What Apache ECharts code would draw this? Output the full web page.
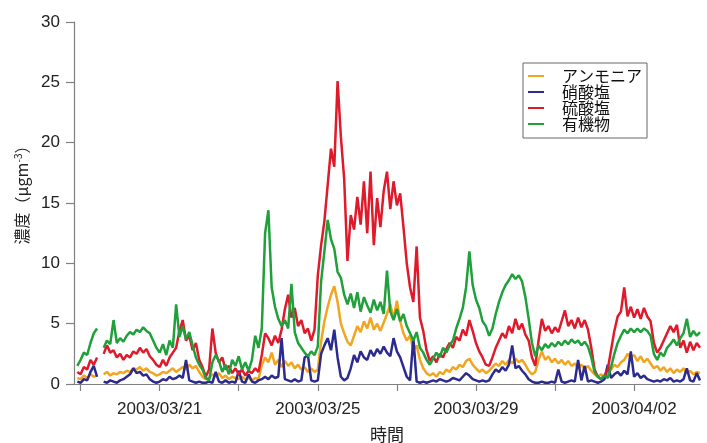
<!DOCTYPE html>
<html>
<head>
<meta charset="utf-8">
<script src="https://cdn.jsdelivr.net/npm/echarts@6/dist/echarts.min.js"></script>
<style>
html,body{margin:0;padding:0;background:#fff}
#chart{width:707px;height:443px}
</style>
</head>
<body>
<div id="chart"></div>
<script>
// Samples every 2 hours; x is hours since 2003/03/19 00:00
const START_HOUR = -2;
const STEP_HOUR = 2;

const seriesNames = ['アンモニア', '硝酸塩', '硫酸塩', '有機物'];
const seriesColors = ['#f2a51f', '#2c2a8e', '#df1a2b', '#20a03a'];

// アンモニア (μg m-3)
const ammonia = [
  0.5,0.4,0.7,0.5,0.8,0.6,0.7,null,0.8,1.0,
  0.7,0.9,0.8,1.0,0.9,1.1,1.0,1.3,1.2,1.4,
  1.1,1.3,1.0,0.9,0.7,0.8,1.0,0.9,1.1,1.3,
  1.0,1.2,1.4,1.2,1.6,1.3,1.5,1.0,0.6,0.4,
  0.5,0.8,0.6,0.9,0.5,0.7,0.4,0.6,0.5,0.4,
  0.6,0.4,0.5,0.3,0.5,0.4,1.6,2.2,1.8,2.6,
  1.6,2.0,1.4,1.9,1.5,1.8,1.3,1.6,1.2,1.4,
  1.0,1.3,1.0,1.2,3.5,5.2,6.4,7.4,8.1,6.8,
  5.0,4.2,3.5,3.2,4.0,4.8,4.3,5.2,4.6,5.5,
  4.5,5.0,4.4,5.1,5.8,6.6,5.4,6.9,5.2,4.2,
  3.6,4.0,2.8,3.2,2.0,1.3,0.9,0.7,0.9,0.6,
  1.0,0.8,1.2,1.0,1.4,1.2,1.6,1.4,1.9,2.1,
  1.6,1.3,1.0,1.2,0.9,1.1,1.4,1.7,1.5,1.9,
  1.6,2.0,1.7,2.1,1.8,2.0,1.6,1.1,0.8,1.0,
  2.0,2.7,2.0,2.3,1.8,2.1,1.7,2.0,1.6,1.9,
  1.5,1.7,1.3,1.6,1.2,1.5,1.1,0.8,0.6,0.8,
  0.5,0.9,1.2,1.6,1.4,1.8,2.0,2.5,2.2,2.4,
  1.9,2.3,1.8,2.1,1.7,1.3,1.5,1.1,1.4,1.0,
  1.3,0.9,1.2,1.0,1.3,0.9,1.1,0.8,1.0,0.9
];

// 硝酸塩
const nitrate = [
  0.2,0.1,0.4,0.3,1.0,1.5,0.6,null,0.2,0.1,
  0.3,0.2,0.1,0.3,0.4,0.6,0.8,1.3,0.9,1.0,
  0.7,0.8,0.4,0.2,0.1,0.2,0.4,0.3,0.6,0.4,
  0.5,0.7,0.5,2.0,0.3,0.2,0.1,0.2,0.1,0.1,
  0.2,0.1,1.0,0.2,0.1,0.3,0.1,0.2,0.1,1.1,
  0.2,0.1,0.8,0.2,0.1,0.3,0.4,0.6,0.4,0.7,
  0.5,0.6,3.8,0.4,0.3,0.2,0.4,0.2,0.3,2.2,
  2.4,0.3,0.2,0.3,2.5,3.2,3.8,2.8,4.5,2.2,
  0.6,0.3,0.5,1.3,2.4,1.8,2.7,2.2,2.0,2.8,
  2.3,2.9,2.5,3.1,2.6,2.3,3.8,2.7,2.2,1.4,
  0.6,0.3,3.8,0.2,0.1,0.2,0.1,0.2,0.3,0.2,
  0.4,0.3,0.2,0.3,0.5,0.4,0.3,0.6,0.9,0.7,
  0.4,0.3,0.2,0.3,0.2,0.3,0.8,1.2,1.0,1.4,
  1.1,1.6,3.2,1.3,1.5,1.1,0.8,0.4,0.2,0.1,
  0.1,0.2,0.1,0.1,0.2,0.1,1.2,0.2,0.1,0.2,
  0.3,0.2,2.0,0.3,1.5,0.2,0.3,0.2,0.1,0.2,
  0.4,1.6,0.5,0.8,1.0,0.7,1.1,0.8,2.7,0.6,
  0.9,0.5,0.7,0.4,0.3,0.2,0.3,0.2,0.4,0.3,
  0.5,0.2,0.3,0.2,0.4,1.3,0.3,0.2,0.9,0.3
];

// 硫酸塩
const sulfate = [
  1.0,0.8,1.4,1.2,2.0,1.6,2.2,null,2.5,3.2,
  2.6,2.8,2.2,2.5,2.0,2.4,2.2,2.7,2.5,3.0,
  2.6,2.9,2.3,2.0,1.6,1.4,2.0,1.5,2.2,2.6,
  3.0,4.4,5.3,3.6,4.0,2.8,3.4,2.0,1.4,0.6,
  1.2,4.6,2.6,1.8,2.2,1.2,1.5,0.9,1.3,0.8,
  1.2,0.7,1.1,0.9,1.3,1.0,2.4,4.2,3.8,3.2,
  4.0,3.4,4.5,6.2,7.4,5.5,6.3,4.8,5.3,4.2,
  4.6,3.6,4.5,9.0,11.5,13.5,16.5,19.5,18.0,25.1,
  20.5,17.0,10.2,14.0,12.8,15.5,13.2,16.8,12.5,17.6,
  11.5,15.4,13.0,16.0,17.6,14.5,16.8,14.8,15.8,13.0,
  10.0,8.0,6.8,11.4,5.5,4.4,2.8,1.9,2.3,1.8,
  2.5,2.2,2.9,3.4,3.0,3.9,3.6,4.5,4.0,5.3,
  4.4,3.4,2.7,2.2,1.6,1.5,2.2,3.0,3.6,4.2,
  3.8,4.8,4.2,5.4,4.5,5.0,4.1,3.6,2.2,1.5,
  3.6,5.4,4.4,4.8,4.2,4.7,4.3,5.2,6.1,4.8,
  5.3,4.6,5.5,4.7,5.3,4.5,3.0,1.2,0.6,0.4,
  0.7,1.2,2.8,4.4,5.6,6.0,8.0,5.6,6.4,5.5,
  6.2,5.4,6.3,5.6,5.2,3.4,2.6,3.0,3.6,4.2,
  4.8,4.3,4.9,3.0,3.6,2.6,3.5,2.8,3.4,3.0
];

// 有機物
const organic = [
  1.5,2.0,2.6,2.4,3.4,4.2,4.6,null,3.0,3.6,
  3.3,5.3,3.4,3.8,3.5,4.0,4.3,4.1,4.5,4.3,
  4.7,4.4,4.2,3.6,3.0,2.6,3.3,2.4,3.6,3.0,
  6.6,3.9,4.8,3.7,4.3,3.2,2.2,1.6,1.2,0.5,
  0.3,1.8,2.4,1.9,1.0,1.6,0.8,2.0,1.5,2.3,
  1.2,1.8,1.1,2.0,4.0,3.0,4.6,12.5,14.4,8.0,
  6.4,5.4,4.8,5.3,4.6,8.3,4.3,3.4,3.0,2.6,
  2.3,2.7,2.4,3.1,8.5,11.0,13.6,12.0,11.2,9.3,
  8.8,7.4,6.6,7.5,6.3,7.6,6.0,7.2,6.5,5.9,
  7.0,6.1,6.8,5.8,9.4,6.0,5.3,6.2,5.2,5.8,
  4.8,4.2,3.6,4.3,3.0,2.6,2.0,1.6,2.1,2.6,
  2.2,3.0,2.6,3.2,3.6,4.6,5.4,6.3,8.0,11.0,
  8.2,7.0,6.3,5.2,4.8,4.0,4.6,5.8,6.8,7.6,
  8.2,8.6,9.1,8.7,9.0,8.5,7.2,5.4,3.4,2.3,
  3.2,2.8,3.3,3.0,3.4,3.1,3.5,3.2,3.6,3.3,
  3.7,3.4,3.6,3.2,3.5,3.1,2.2,1.0,0.6,0.4,
  0.7,0.5,1.4,2.5,3.4,4.0,4.5,4.2,4.6,4.3,
  4.6,4.3,4.6,4.4,4.0,2.5,2.0,2.6,2.3,3.0,
  3.3,3.7,3.2,3.8,4.2,5.4,3.9,4.4,4.0,4.3
];

// Axis ticks every 2 days, labels every 4 days (hours since 2003/03/19)
const tickHours = [0, 48, 96, 144, 192, 240, 288, 336];
const labelHours = [48, 144, 240, 336];
const dateLabels = ['2003/03/21', '2003/03/25', '2003/03/29', '2003/04/02'];

const allValues = [ammonia, nitrate, sulfate, organic];
const toPairs = arr => arr.map((v, i) => [START_HOUR + i * STEP_HOUR, v]);

const axisColor = '#808080';
const labelFont = 'Liberation Sans, Arial, sans-serif';
const cjkFont = 'Noto Sans CJK JP, sans-serif';

const chart = echarts.init(document.getElementById('chart'), null, { renderer: 'canvas' });
chart.setOption({
  animation: false,
  backgroundColor: '#ffffff',
  grid: { left: 74, right: 7, top: 22, bottom: 59, containLabel: false, outerBoundsMode: 'none' },
  legend: {
    orient: 'vertical',
    left: 523,
    top: 63,
    padding: [5, 5, 6, 5],
    itemGap: 0,
    itemWidth: 16,
    itemHeight: 2,
    icon: 'rect',
    borderColor: '#666',
    borderWidth: 1,
    backgroundColor: '#fff',
    textStyle: {
      fontFamily: cjkFont,
      fontSize: 16,
      lineHeight: 16,
      color: '#111',
      padding: [0, 0, 0, 13]
    },
    data: seriesNames
  },
  xAxis: {
    type: 'value',
    min: -4,
    max: 376,
    name: '時間',
    nameLocation: 'middle',
    nameGap: 42,
    nameTextStyle: { fontFamily: cjkFont, fontSize: 17, color: '#222' },
    axisLine: { show: true, onZero: false, lineStyle: { color: axisColor, width: 1.2 } },
    axisTick: { show: true, length: 7, lineStyle: { color: axisColor, width: 1.2 }, customValues: tickHours },
    axisLabel: {
      customValues: labelHours,
      margin: 17,
      fontFamily: labelFont,
      fontSize: 17,
      color: '#222',
      formatter: v => dateLabels[labelHours.indexOf(v)]
    },
    splitLine: { show: false }
  },
  yAxis: {
    type: 'value',
    min: 0,
    max: 30,
    interval: 5,
    name: '{a|濃度（μgm}{s|-3}{a|）}',
    nameLocation: 'middle',
    nameRotate: 90,
    nameGap: 43,
    nameTextStyle: {
      padding: [0, 0, 0, 24],
      rich: {
        a: { fontFamily: cjkFont, fontSize: 16, color: '#222' },
        s: { fontFamily: cjkFont, fontSize: 10, color: '#222', verticalAlign: 'top', padding: [0, 0, 8, 0] }
      }
    },
    axisLine: { show: true, onZero: false, lineStyle: { color: axisColor, width: 1.2 } },
    axisTick: { show: true, length: 8, lineStyle: { color: axisColor, width: 1.2 } },
    axisLabel: { margin: 14, fontFamily: labelFont, fontSize: 17, color: '#222' },
    splitLine: { show: false }
  },
  series: seriesNames.map((name, k) => ({
    name,
    type: 'line',
    data: toPairs(allValues[k]),
    showSymbol: false,
    symbol: 'none',
    connectNulls: false,
    color: seriesColors[k],
    lineStyle: { color: seriesColors[k], width: 2.5 }
  }))
});
</script>
</body>
</html>
